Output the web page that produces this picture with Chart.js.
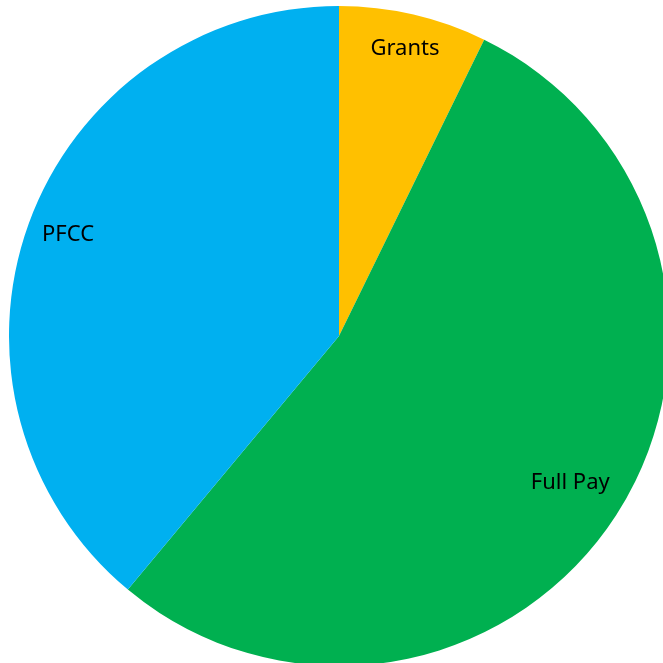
<!DOCTYPE html>
<html>
<head>
<meta charset="utf-8">
<script src="https://cdn.jsdelivr.net/npm/chart.js@4"></script>
<style>
  html, body { margin: 0; padding: 0; background: #ffffff; overflow: hidden; width: 663px; height: 663px; }
  #wrap { position: absolute; left: 9px; top: 6px; width: 660px; height: 660px; }
</style>
</head>
<body>
<div id="wrap"><canvas id="pieChart"></canvas></div>
<script>
const CATEGORIES = ["Grants", "Full Pay", "PFCC"];
const SHARES = [7.25, 53.8, 38.95];

const COLORS = ["#FFC000", "#00B050", "#00B0F0"];
const FONT_COLOR = "#000000";
// how far out each label sits, as a fraction of the radius
const LABEL_RADIUS = [0.885, 0.835, 0.873];

const insideLabels = {
  id: "insideLabels",
  afterDatasetsDraw(chart) {
    const ctx = chart.ctx;
    const meta = chart.getDatasetMeta(0);
    ctx.save();
    ctx.font = "22px 'Noto Sans'";
    ctx.fillStyle = FONT_COLOR;
    ctx.textAlign = "center";
    ctx.textBaseline = "middle";
    meta.data.forEach((arc, i) => {
      const p = arc.getProps(["x", "y", "startAngle", "endAngle", "outerRadius"], true);
      const mid = (p.startAngle + p.endAngle) / 2;
      const r = p.outerRadius * LABEL_RADIUS[i];
      ctx.fillText(chart.data.labels[i], p.x + Math.cos(mid) * r, p.y + Math.sin(mid) * r - 3);
    });
    ctx.restore();
  },
};

new Chart(document.getElementById("pieChart"), {
  type: "pie",
  data: {
    labels: CATEGORIES,
    datasets: [
      {
        data: SHARES,
        backgroundColor: COLORS,
        borderWidth: 0,
      },
    ],
  },
  options: {
    responsive: true,
    maintainAspectRatio: false,
    animation: false,
    layout: { padding: 0 },
    plugins: {
      legend: { display: false },
      tooltip: { enabled: false },
    },
  },
  plugins: [insideLabels],
});
</script>
</body>
</html>
